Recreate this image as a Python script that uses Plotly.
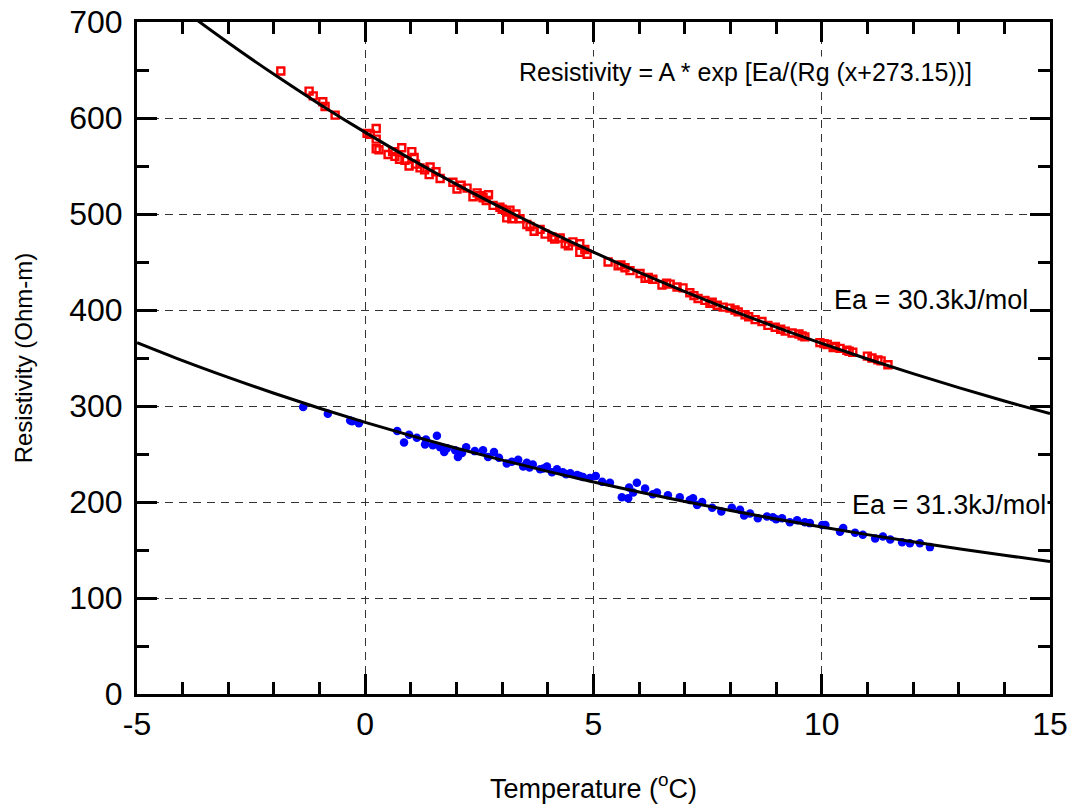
import plotly.graph_objects as go

# Fitted curves at integer temperatures
fit_x = [-5, -4, -3, -2, -1, 0, 1, 2, 3, 4, 5, 6, 7, 8, 9, 10, 11, 12, 13, 14, 15]
fit_red = [752, 713.3, 678.4, 645.5, 614.4, 585, 557.2, 530.9, 506.1, 482.5, 460.3, 439.2,
           419.2, 400.2, 382.2, 365.2, 349.0, 333.7, 319.1, 305.2, 292.1]
fit_blue = [366.0, 347.3, 329.8, 313.3, 297.7, 283, 269.1, 256.0, 243.6, 231.9, 220.9, 210.4,
            200.6, 191.2, 182.3, 173.9, 166.0, 158.5, 151.3, 144.5, 138.1]

# Red (open squares) measured points
red_x = [-1.85, -1.23, -1.14, -0.93, -0.88, -0.66, 0.04, 0.11, 0.24, 0.24, 0.24, 0.30,
         0.50, 0.65, 0.80, 0.87, 1.02, 1.07, 0.96, 1.20, 1.42, 1.40, 1.64, 1.92, 2.01,
         2.23, 2.36, 2.58, 2.80, 2.95, 3.10, 3.17, 3.10, 3.21, 3.39, 3.54, 3.61, 3.83,
         3.94, 4.09, 4.27, 4.38, 4.55, 4.70, 4.70, 4.86, 4.81, 5.32, 5.54, 5.69, 5.80,
         6.02, 6.13, 6.30, 6.50, 6.68, 6.83, 6.96, 7.11, 7.29, 7.44, 7.55, 7.71, 7.84,
         7.99, 8.17, 8.32, 8.54, 8.69, 8.82, 8.98, 9.20, 9.35, 9.57, 9.63, 9.96, 10.12,
         10.25, 10.40, 10.55, 10.68, 11.10, 11.23, 11.45, 2.45, 2.65, 2.70, 3.00, 3.30,
         1.30, 1.55, 2.10, 2.50, 3.70, 4.15, 4.45, 5.60, 6.20, 6.60, 7.20, 7.60, 8.10,
         8.40, 9.10, 9.50, 10.05, 10.30, 10.60, 11.00, 11.30, 0.60, 0.75, 1.10]
red_y = [649, 628, 623, 617, 612, 603, 584, 583, 589, 578, 568, 567,
         562, 560, 569, 556, 565, 559, 550, 548, 549, 541, 537, 533, 526,
         527, 518, 517, 509, 507, 502, 504, 496, 495, 495, 489, 487, 484,
         479, 476, 475, 469, 471, 469, 460, 458, 463, 450, 446, 444, 441,
         438, 433, 432, 426, 427, 424, 423, 418, 412, 410, 407, 405, 403,
         402, 398, 395, 390, 388, 384, 382, 378, 376, 373, 372, 366, 364,
         361, 360, 358, 356, 350, 348, 343, 522, 514, 520, 505, 500,
         546, 544, 530, 519, 482, 474, 467, 447, 434, 428, 415, 408, 400,
         393, 380, 375, 365, 362, 357, 352, 347, 565, 557, 552]

# Blue (filled circles) measured points
blue_x = [-1.36, -0.82, -0.33, -0.29, -0.14, 0.70, 0.85, 0.96, 1.13, 1.33, 1.31, 1.57,
          1.48, 1.64, 1.73, 1.79, 1.97, 2.03, 2.12, 2.21, 2.58, 2.69, 2.82, 2.93, 3.21,
          3.35, 3.46, 3.54, 3.67, 3.83, 3.98, 4.09, 4.20, 4.33, 4.49, 4.64, 4.77, 4.92,
          5.05, 5.19, 5.36, 5.62, 5.76, 5.78, 5.87, 5.95, 6.13, 6.39, 6.63, 6.89, 7.11,
          7.27, 7.18, 7.38, 7.60, 8.03, 8.21, 8.43, 8.60, 8.80, 8.93, 9.13, 9.30, 9.46,
          9.63, 9.74, 10.01, 10.08, 10.40, 10.47, 10.73, 10.90, 11.17, 11.34, 11.50, 11.76,
          11.93, 12.15, 12.37, 3.10, 3.60, 3.90, 4.40, 4.70, 2.40, 6.30, 7.80, 8.30, 9.00]
blue_y = [299, 292, 285, 284, 282, 274, 262, 270, 267, 265, 260, 269,
          259, 257, 252, 256, 254, 247, 251, 257, 254, 247, 252, 246, 242,
          244, 237, 241, 239, 234, 237, 231, 234, 231, 230, 228, 226, 225,
          227, 221, 220, 205, 204, 215, 210, 220, 214, 210, 207, 205, 202,
          197, 204, 200, 194, 194, 192, 188, 183, 185, 184, 183, 179, 181,
          179, 178, 176, 176, 169, 173, 168, 166, 162, 164, 161, 158,
          157, 157, 153, 240, 236, 235, 229, 227, 253, 208, 190, 186, 182]

x_ticks = [-5, 0, 5, 10, 15]
y_ticks = [0, 100, 200, 300, 400, 500, 600, 700]

FONT = "Liberation Sans, Arial, sans-serif"

fig = go.Figure()
fig.add_trace(go.Scatter(x=red_x, y=red_y, mode="markers",
                         marker=dict(symbol="square-open", size=7, color="#ff0000",
                                     line=dict(width=2.4, color="#ff0000")),
                         showlegend=False))
fig.add_trace(go.Scatter(x=blue_x, y=blue_y, mode="markers",
                         marker=dict(symbol="circle", size=8.5, color="#0000ff"),
                         showlegend=False))
fig.add_trace(go.Scatter(x=fit_x, y=fit_red, mode="lines", line=dict(color="black", width=3, shape="spline"),
                         showlegend=False))
fig.add_trace(go.Scatter(x=fit_x, y=fit_blue, mode="lines", line=dict(color="black", width=3, shape="spline"),
                         showlegend=False))

axis_common = dict(
    showline=True, linecolor="black", linewidth=3, mirror="ticks",
    ticks="inside", tickcolor="black", tickwidth=2.5, ticklen=20,
    showgrid=True, gridcolor="#333333", gridwidth=1, griddash="8px,6px",
    zeroline=False, tickfont=dict(family=FONT, size=32, color="black"),
    automargin=False,
)

fig.update_xaxes(range=[-5, 15], tickvals=x_ticks, ticktext=[str(v) for v in x_ticks],
                 minor=dict(dtick=1, ticklen=12, tickwidth=2.5, tickcolor="black", ticks="inside", showgrid=False),
                 title=dict(text="Temperature (<sup>o</sup>C)", font=dict(family=FONT, size=27, color="black"),
                            standoff=38),
                 **axis_common)
fig.update_yaxes(range=[0, 700], tickvals=y_ticks, ticktext=[str(v) for v in y_ticks],
                 minor=dict(dtick=50, ticklen=12, tickwidth=2.5, tickcolor="black", ticks="inside", showgrid=False),
                 ticklabelstandoff=5,
                 title=dict(text="Resistivity (Ohm-m)", font=dict(family=FONT, size=24, color="black"),
                            standoff=30),
                 **axis_common)

fig.add_annotation(x=8.32, y=648, xref="x", yref="y", text="Resistivity = A * exp [Ea/(Rg (x+273.15))]",
                   showarrow=False, font=dict(family=FONT, size=25, color="black"), bgcolor="white")
fig.add_annotation(x=15, y=410, xref="x", yref="y", text="Ea = 30.3kJ/mol", showarrow=False,
                   font=dict(family=FONT, size=27, color="black"), bgcolor="white", xanchor="right", xshift=-20)
fig.add_annotation(x=15, y=197, xref="x", yref="y", text="Ea = 31.3kJ/mol", showarrow=False,
                   font=dict(family=FONT, size=27, color="black"), bgcolor="white", xanchor="right", xshift=-2)

fig.update_layout(width=1077, height=810, margin=dict(l=137, r=27, t=22, b=116),
                  plot_bgcolor="white", paper_bgcolor="white", showlegend=False)

fig.write_html("out.html")
